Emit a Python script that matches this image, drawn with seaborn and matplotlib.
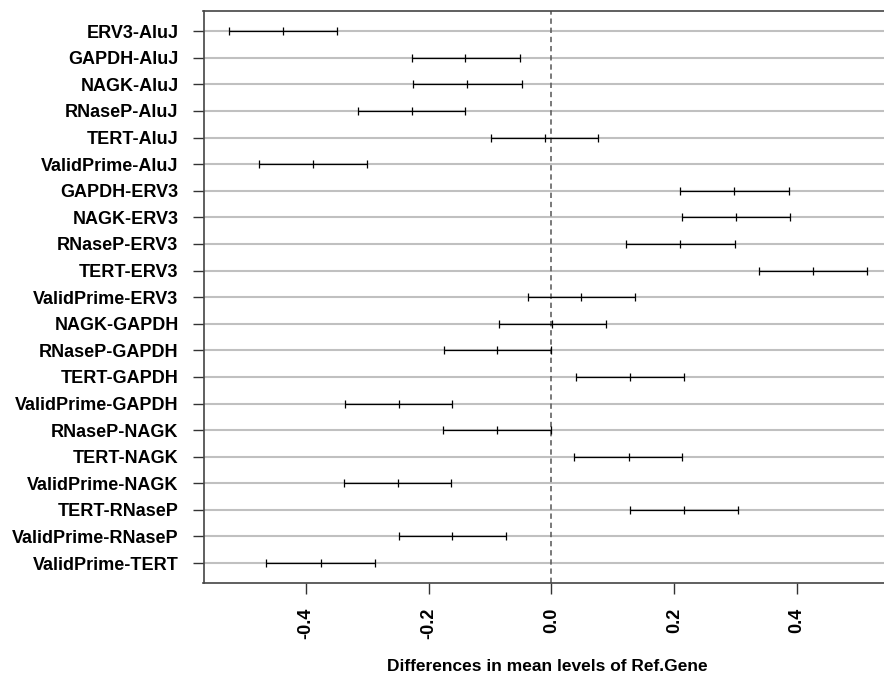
import matplotlib
matplotlib.use("Agg")
import matplotlib.pyplot as plt
import seaborn as sns
import numpy as np
import pandas as pd

comparisons = ["ERV3-AluJ", "GAPDH-AluJ", "NAGK-AluJ", "RNaseP-AluJ", "TERT-AluJ",
               "ValidPrime-AluJ", "GAPDH-ERV3", "NAGK-ERV3", "RNaseP-ERV3", "TERT-ERV3",
               "ValidPrime-ERV3", "NAGK-GAPDH", "RNaseP-GAPDH", "TERT-GAPDH",
               "ValidPrime-GAPDH", "RNaseP-NAGK", "TERT-NAGK", "ValidPrime-NAGK",
               "TERT-RNaseP", "ValidPrime-RNaseP", "ValidPrime-TERT"]
diff = [-0.437, -0.140, -0.138, -0.227, -0.011, -0.388, 0.298, 0.300, 0.210, 0.426,
        0.048, 0.001, -0.088, 0.128, -0.249, -0.089, 0.126, -0.250, 0.216, -0.162, -0.376]
lwr = [-0.525, -0.227, -0.225, -0.315, -0.099, -0.476, 0.210, 0.213, 0.122, 0.338,
       -0.039, -0.086, -0.175, 0.040, -0.337, -0.177, 0.037, -0.338, 0.128, -0.249, -0.465]
upr = [-0.350, -0.052, -0.048, -0.140, 0.076, -0.301, 0.387, 0.389, 0.299, 0.513,
       0.136, 0.089, -0.001, 0.216, -0.162, -0.001, 0.213, -0.163, 0.304, -0.074, -0.288]
xticks = [-0.4, -0.2, 0.0, 0.2, 0.4]
xlabel = "Differences in mean levels of Ref.Gene"

df = pd.DataFrame({"comparison": comparisons, "diff": diff, "lwr": lwr, "upr": upr})
df["pos"] = np.arange(len(df))

sns.set_style("white")
plt.rcParams["font.family"] = ["Liberation Sans", "DejaVu Sans"]
plt.rcParams["text.color"] = "black"
plt.rcParams["axes.labelcolor"] = "black"
plt.rcParams["xtick.color"] = "black"
plt.rcParams["ytick.color"] = "black"

fig = plt.figure(figsize=(8.84, 6.75), dpi=100)
ax = fig.add_axes([203.5 / 884, 92 / 675, 688.5 / 884, 572 / 675])

for p in df["pos"]:
    ax.axhline(p, color="#c0c0c0", lw=1.5, zorder=1)

ax.axvline(0, color="#555555", lw=1.1, dashes=(3.5, 2.5), zorder=2)

ax.errorbar(df["diff"], df["pos"],
            xerr=[df["diff"] - df["lwr"], df["upr"] - df["diff"]],
            fmt="none", ecolor="black", elinewidth=0.9, capsize=3.0, capthick=0.9, zorder=3)
sns.scatterplot(data=df, x="diff", y="pos", marker="|", s=30, color="black",
                linewidth=0.9, ax=ax, zorder=4, legend=False)

ax.set_xlim(-0.5666, 0.5545)
ax.set_ylim(20.75, -0.76)
ax.set_yticks(df["pos"])
ax.set_yticklabels(df["comparison"], fontsize=13, fontweight="bold")
ax.set_xticks(xticks)
ax.set_xticklabels([f"{v:.1f}" for v in xticks], rotation=90, fontsize=13, fontweight="bold")
ax.set_xlabel(xlabel, fontsize=12.5, fontweight="bold", labelpad=14)
ax.set_ylabel("")
ax.tick_params(axis="both", direction="out", length=8, width=1, color="#333333", pad=10,
               left=True, bottom=True)
for s in ax.spines.values():
    s.set_color("#444444")
    s.set_linewidth(1.2)

fig.savefig("out.png", dpi=100)
